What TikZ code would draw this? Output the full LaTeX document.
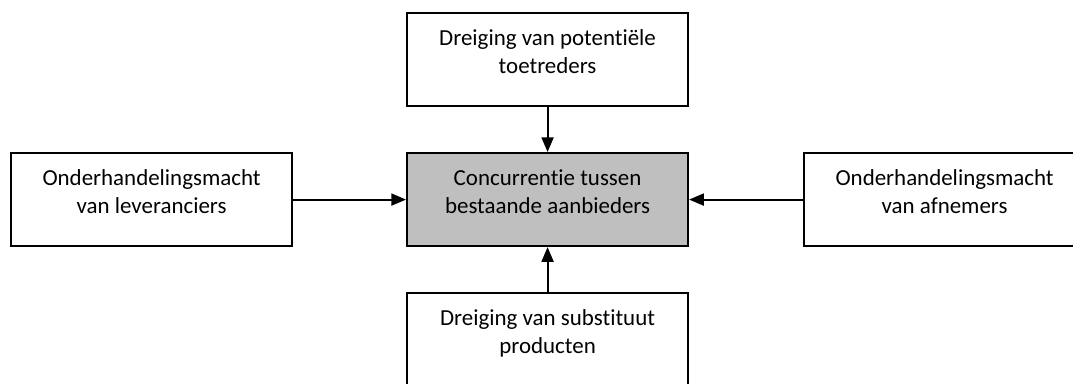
\documentclass[tikz,border=0pt]{standalone}
\usepackage{fontspec}
\setmainfont{Carlito}[Ligatures={NoCommon}]
\usetikzlibrary{arrows.meta}
\begin{document}
\begin{tikzpicture}[x=0.75pt,y=-0.75pt,
  force/.style={draw=black, line width=1.6pt, fill=white, rectangle,
    minimum width=210.75pt, minimum height=69.75pt, inner sep=0pt, anchor=north west},
  rivalry/.style={force, fill=black!25},
  label text/.style={align=center, anchor=base, inner sep=0pt,
    font=\fontsize{17.2pt}{21pt}\selectfont},
  push/.style={line width=1.4pt, -{Triangle[length=11pt,width=9pt]}}]
  \useasboundingbox (0,0) rectangle (1073,383);
  \clip (0,0) rectangle (1073,383);

  % the five forces
  \node[force]   (entrants)  at (406,12)  {};
  \node[force]   (suppliers) at (10,152)  {};
  \node[rivalry] (rivalry)   at (406,152) {};
  \node[force]   (buyers)    at (803,152) {};
  \node[force]   (substitutes) at (406,292) {};

  % box captions; the base anchor sits on the second line
  \node[label text] (t-entrants) at ([yshift=-45.75pt]entrants.north)
    {Dreiging van potentiële\\toetreders};
  \node[label text] (t-suppliers) at ([yshift=-45.75pt]suppliers.north)
    {Onderhandelingsmacht\\van leveranciers};
  \node[label text] (t-rivalry) at ([yshift=-45.75pt]rivalry.north)
    {Concurrentie tussen\\bestaande aanbieders};
  \node[label text] (t-buyers) at ([yshift=-45.75pt]buyers.north)
    {Onderhandelingsmacht\\van afnemers};
  \node[label text] (t-substitutes) at ([yshift=-45.75pt]substitutes.north)
    {Dreiging van substituut\\producten};

  % pressure on the central rivalry
  \draw[push] (entrants.south) -- (rivalry.north);
  \draw[push] (suppliers.east) -- (rivalry.west);
  \draw[push] (buyers.west) -- (rivalry.east);
  \draw[push] (substitutes.north) -- (rivalry.south);
\end{tikzpicture}
\end{document}
